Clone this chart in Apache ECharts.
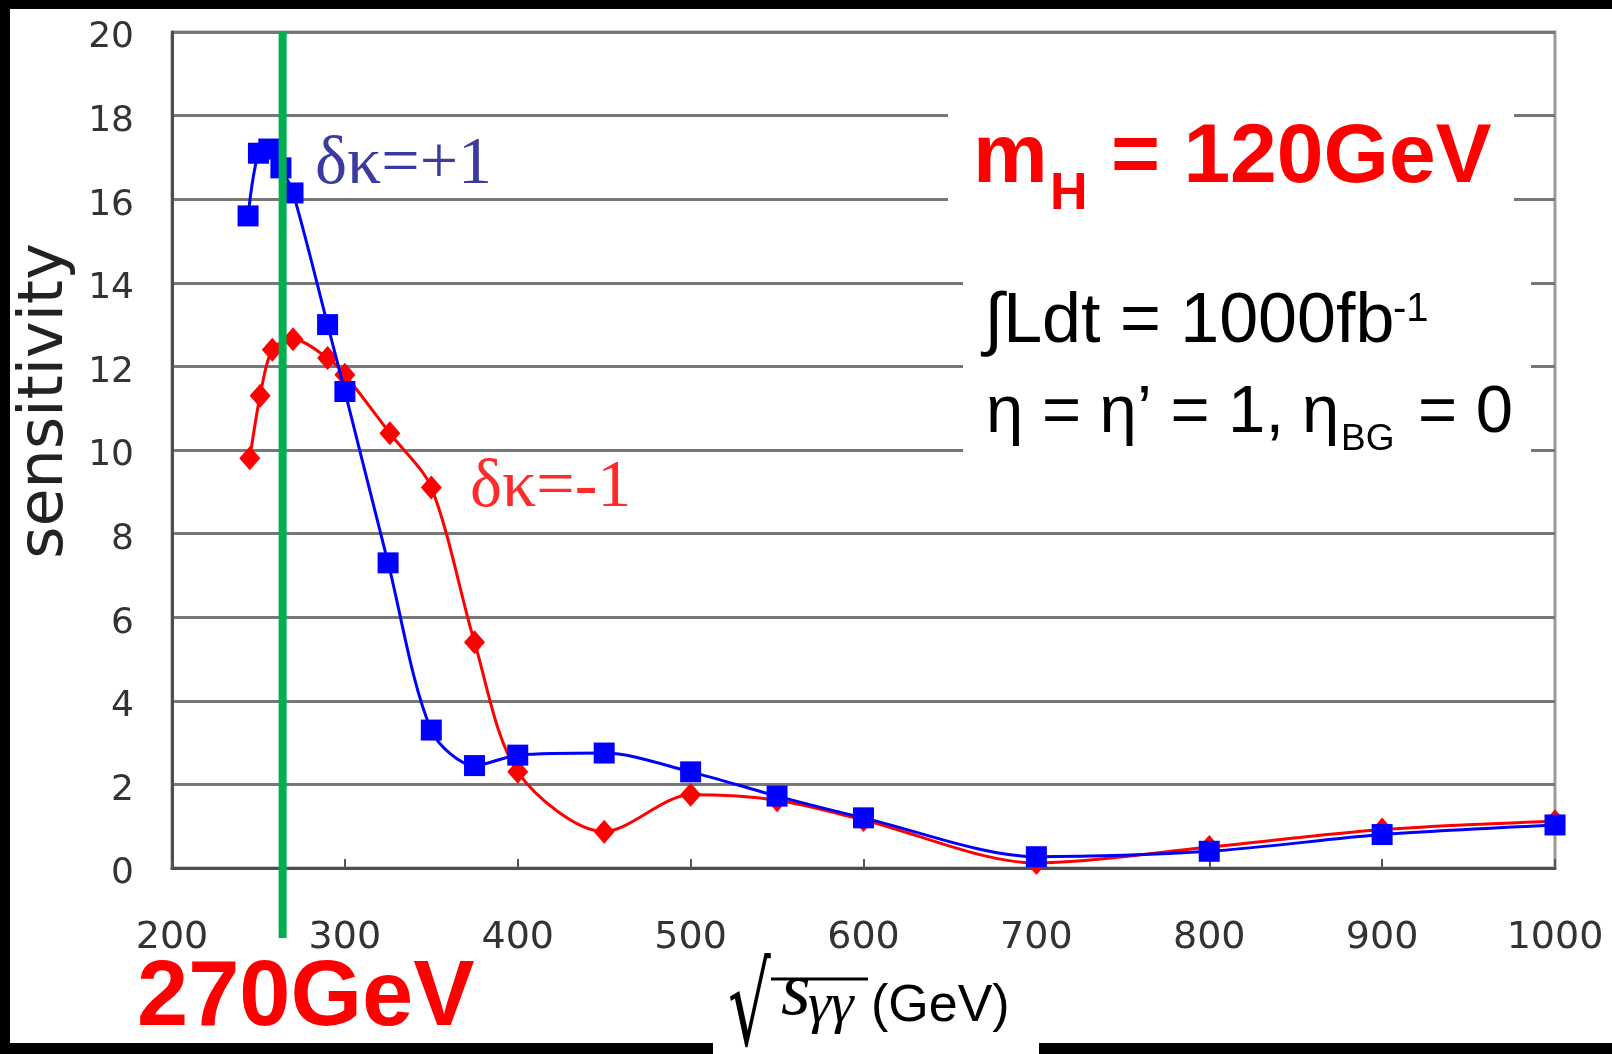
<!DOCTYPE html>
<html>
<head>
<meta charset="utf-8">
<script src="https://cdn.jsdelivr.net/npm/echarts@6/dist/echarts.min.js"></script>
<style>
html,body{margin:0;padding:0;background:#ffffff;}
#chart{width:1612px;height:1054px;}
</style>
</head>
<body>
<div id="chart"></div>
<script>
// ---- data ----
const xAxisRange = [200, 1000, 100];   // min, max, interval
const yAxisRange = [0, 20, 2];

const blueName = 'δκ=+1';
const blueX = [244, 250, 256, 263, 270, 290, 300, 325, 350, 375, 400, 450, 500, 550, 600, 700, 800, 900, 1000];
const blueY = [15.6, 17.1, 17.2, 16.75, 16.15, 13.0, 11.4, 7.3, 3.3, 2.45, 2.7, 2.75, 2.3, 1.72, 1.2, 0.27, 0.4, 0.8, 1.03];

const redName = 'δκ=-1';
const redX = [245, 251, 258, 270, 290, 300, 326, 350, 375, 400, 450, 500, 550, 600, 700, 800, 900, 1000];
const redY = [9.8, 11.3, 12.4, 12.65, 12.2, 11.8, 10.4, 9.1, 5.4, 2.3, 0.87, 1.75, 1.62, 1.15, 0.12, 0.5, 0.92, 1.12];

const markerX = [264];      // green vertical line ("270GeV")
const markerTop = [20];

const chart = echarts.init(document.getElementById('chart'), null, {renderer: 'canvas'});

const blueData = blueX.map((x, i) => [x, blueY[i]]);
const redData = redX.map((x, i) => [x, redY[i]]);
const markerData = markerX.map((x, i) => [x, markerTop[i]]);

const SANS = '"Liberation Sans", Arial, sans-serif';
const SERIF = '"Liberation Serif", "Times New Roman", serif';

const option = {
  animation: false,
  backgroundColor: '#ffffff',
  grid: {
    left: 172, right: 57, top: 32, bottom: 186,
    show: true, borderColor: '#9a9a9a', borderWidth: 3,
    backgroundColor: 'transparent',
    outerBoundsMode: 'none', containLabel: false
  },
  xAxis: {
    type: 'value', min: xAxisRange[0], max: xAxisRange[1], interval: xAxisRange[2],
    axisLine: {show: true, onZero: false, lineStyle: {color: '#4d4d4d', width: 3}},
    axisTick: {show: true, inside: true, length: 9, lineStyle: {color: '#555555', width: 2}},
    axisLabel: {margin: 51, fontFamily: '"DejaVu Sans"', fontSize: 38, color: '#333333',
      formatter: function (v) { return String(v); }},
    splitLine: {show: false}
  },
  yAxis: {
    type: 'value', min: yAxisRange[0], max: yAxisRange[1], interval: yAxisRange[2],
    name: 'sensitivity', nameLocation: 'middle', nameRotate: 90, nameGap: 93,
    nameTextStyle: {fontFamily: '"DejaVu Sans"', fontSize: 62, color: '#222222', padding: [0, 0, 0, 98]},
    axisLine: {show: true, lineStyle: {color: '#4d4d4d', width: 3}},
    axisTick: {show: false},
    axisLabel: {margin: 38, fontFamily: '"DejaVu Sans"', fontSize: 36, color: '#333333',
      verticalAlign: 'top', lineHeight: 12,
      formatter: function (v) { return String(v); }},
    splitLine: {show: true, lineStyle: {color: '#777777', width: 3}}
  },
  series: [
    {
      name: redName, type: 'line', data: redData, smooth: 0.3,
      symbol: 'diamond', symbolSize: [21, 24], showSymbol: true,
      lineStyle: {color: '#ff0000', width: 3},
      itemStyle: {color: '#ff0000'}, z: 3
    },
    {
      name: blueName, type: 'line', data: blueData, smooth: 0.3,
      symbol: 'rect', symbolSize: 21, showSymbol: true,
      lineStyle: {color: '#0000ff', width: 3},
      itemStyle: {color: '#0000ff'}, z: 4
    },
    {
      type: 'custom', data: markerData, clip: false, z: 10,
      encode: {x: 0, y: 1},
      renderItem: function (params, api) {
        const p1 = api.coord([api.value(0), api.value(1)]);
        const p0 = api.coord([api.value(0), yAxisRange[0]]);
        return {
          type: 'line',
          shape: {x1: p1[0], y1: p1[1], x2: p1[0], y2: p0[1] + 70},
          style: {stroke: '#00b050', lineWidth: 8}
        };
      }
    }
  ],
  graphic: {
    elements: [
      // white boxes behind the annotation text
      {type: 'rect', z: 5, shape: {x: 948, y: 88, width: 566, height: 140}, style: {fill: '#ffffff'}},
      {type: 'rect', z: 5, shape: {x: 963, y: 258, width: 568, height: 210}, style: {fill: '#ffffff'}},
      // series labels
      {type: 'text', z: 6, x: 315, y: 165, style: {text: 'δκ=+1', font: '68px ' + SERIF, fill: '#3a3aa0', align: 'left', verticalAlign: 'middle'}},
      {type: 'text', z: 6, x: 470, y: 488, style: {text: 'δκ=-1', font: '68px ' + SERIF, fill: '#ff2a2a', align: 'left', verticalAlign: 'middle'}},
      // m_H = 120GeV
      {type: 'text', z: 6, x: 973, y: 159, style: {text: 'm', font: 'bold 84px ' + SANS, fill: '#ff0000', align: 'left', verticalAlign: 'middle'}},
      {type: 'text', z: 6, x: 1050, y: 195, style: {text: 'H', font: 'bold 52px ' + SANS, fill: '#ff0000', align: 'left', verticalAlign: 'middle'}},
      {type: 'text', z: 6, x: 1111, y: 159, style: {text: '= 120GeV', font: 'bold 84px ' + SANS, fill: '#ff0000', align: 'left', verticalAlign: 'middle'}},
      // luminosity
      {type: 'text', z: 6, x: 984, y: 323, style: {text: '∫Ldt = 1000fb', font: '70px ' + SANS, fill: '#000000', align: 'left', verticalAlign: 'middle'}},
      {type: 'text', z: 6, x: 1393, y: 310, style: {text: '-1', font: '40px ' + SANS, fill: '#000000', align: 'left', verticalAlign: 'middle'}},
      // eta line
      {type: 'text', z: 6, x: 986, y: 414, style: {text: 'η = η’ = 1,', font: '67px ' + SANS, fill: '#000000', align: 'left', verticalAlign: 'middle'}},
      {type: 'text', z: 6, x: 1302, y: 414, style: {text: 'η', font: '67px ' + SANS, fill: '#000000', align: 'left', verticalAlign: 'middle'}},
      {type: 'text', z: 6, x: 1341, y: 440, style: {text: 'BG', font: '37px ' + SANS, fill: '#000000', align: 'left', verticalAlign: 'middle'}},
      {type: 'text', z: 6, x: 1418, y: 414, style: {text: '= 0', font: '67px ' + SANS, fill: '#000000', align: 'left', verticalAlign: 'middle'}},
      // 270GeV
      {type: 'text', z: 6, x: 137, y: 1000, style: {text: '270GeV', font: 'bold 92px ' + SANS, fill: '#ff0000', align: 'left', verticalAlign: 'middle'}},
      // x axis title  sqrt(s_gg)(GeV)
      {type: 'text', z: 6, x: 728, y: 1016, scaleX: 0.8, scaleY: 1.35, style: {text: '√', font: '84px "DejaVu Sans"', fill: '#000000', align: 'left', verticalAlign: 'middle'}},
      {type: 'line', z: 6, shape: {x1: 771, y1: 979, x2: 868, y2: 979}, style: {stroke: '#000000', lineWidth: 3}},
      {type: 'text', z: 6, x: 781, y: 994, style: {text: 's', font: 'italic 76px ' + SERIF, fill: '#000000', align: 'left', verticalAlign: 'middle'}},
      {type: 'text', z: 6, x: 808, y: 1007, style: {text: 'γγ', font: 'italic 58px ' + SERIF, fill: '#000000', align: 'left', verticalAlign: 'middle'}},
      {type: 'text', z: 6, x: 871, y: 1007, style: {text: '(GeV)', font: '52px ' + SANS, fill: '#000000', align: 'left', verticalAlign: 'middle'}},
      // black frame
      {type: 'rect', z: 20, shape: {x: 0, y: 0, width: 1612, height: 9}, style: {fill: '#000000'}},
      {type: 'rect', z: 20, shape: {x: 0, y: 0, width: 10, height: 1054}, style: {fill: '#000000'}},
      {type: 'rect', z: 20, shape: {x: 0, y: 1043, width: 713, height: 11}, style: {fill: '#000000'}},
      {type: 'rect', z: 20, shape: {x: 1039, y: 1043, width: 573, height: 11}, style: {fill: '#000000'}}
    ]
  }
};

chart.setOption(option);
</script>
</body>
</html>
